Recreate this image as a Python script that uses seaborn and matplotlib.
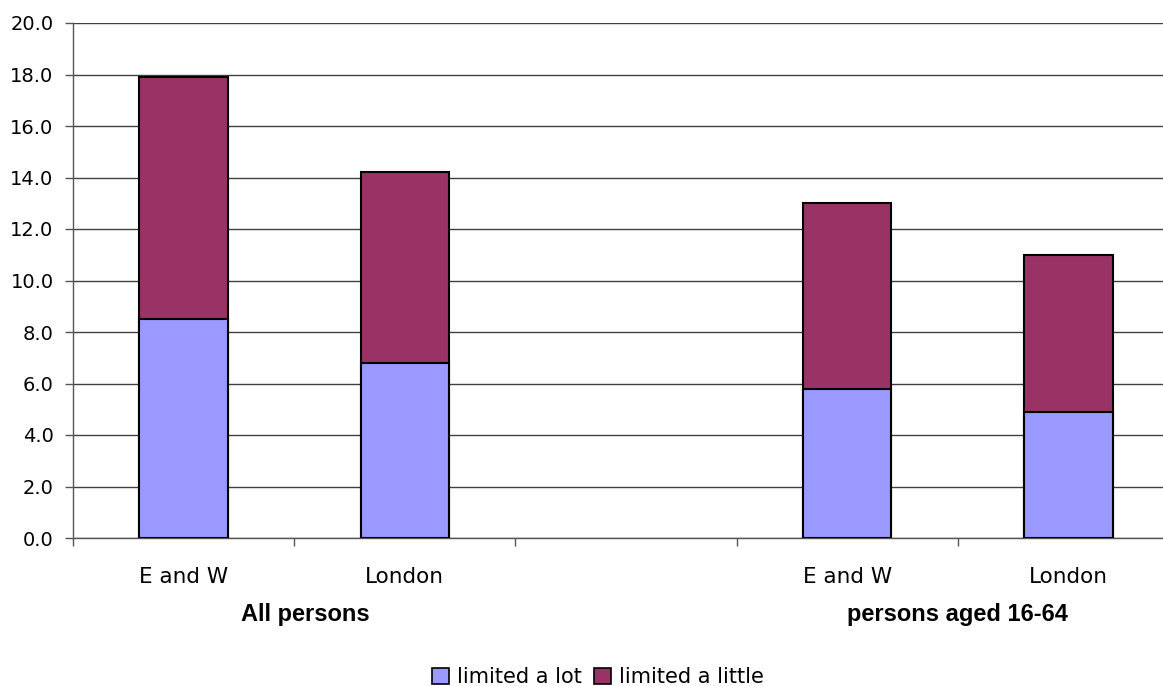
import matplotlib
matplotlib.use("Agg")
import matplotlib.pyplot as plt
import matplotlib.transforms as mtransforms
from matplotlib.patches import Patch
from matplotlib.ticker import FixedLocator
import pandas as pd
import seaborn as sns

# ---- data ----
slots = ["ew_all", "ldn_all", "gap", "ew_1664", "ldn_1664"]
slot_labels = ["E and W", "London", "", "E and W", "London"]
bar_slots = ["ew_all", "ldn_all", "ew_1664", "ldn_1664"]
limited_lot = [8.5, 6.8, 5.8, 4.9]
limited_little = [9.4, 7.4, 7.2, 6.1]
series_names = ["limited a lot", "limited a little"]
groups = ["All persons", "persons aged 16-64"]
group_centers = [0.55, 3.5]
yticks = [0, 2, 4, 6, 8, 10, 12, 14, 16, 18, 20]

COL_LOT = "#9999FF"
COL_LITTLE = "#993366"

sns.set_style("white")
plt.rcParams["font.family"] = ["DejaVu Sans"]
plt.rcParams["text.color"] = "black"
plt.rcParams["xtick.color"] = "black"
plt.rcParams["ytick.color"] = "black"

df = pd.DataFrame({
    "slot": bar_slots,
    "lot": limited_lot,
    "little": limited_little,
})
df["total"] = df["lot"] + df["little"]

W, H = 1163, 686
fig = plt.figure(figsize=(W / 100, H / 100), dpi=100)
ax = fig.add_axes([73 / W, 1 - 538 / H, 1106 / W, 515 / H])

sns.barplot(data=df, x="slot", y="total", order=slots, color=COL_LITTLE,
            saturation=1, edgecolor="black", linewidth=1.5, width=0.4,
            ax=ax, zorder=3)
sns.barplot(data=df, x="slot", y="lot", order=slots, color=COL_LOT,
            saturation=1, edgecolor="black", linewidth=1.5, width=0.4,
            ax=ax, zorder=4)

ax.set_xlim(-0.5, 4.5)
ax.set_ylim(0, 20)
ax.set_yticks(yticks)
ax.set_yticklabels([f"{v:.1f}" for v in yticks], fontsize=14)
ax.yaxis.grid(True, color="#404040", linewidth=1.0, zorder=0)
ax.set_axisbelow(True)

ax.set_xticks(range(len(slots)))
ax.set_xticklabels(slot_labels, fontsize=15.5)
ax.xaxis.set_minor_locator(FixedLocator([i - 0.5 for i in range(len(slots) + 1)]))
ax.tick_params(axis="x", which="major", length=0, pad=21, bottom=True, labelcolor="black")
ax.tick_params(axis="x", which="minor", length=6, width=1, color="#555555",
               direction="out", bottom=True)
ax.tick_params(axis="y", which="major", length=6, width=1, color="#555555",
               direction="out", pad=8, left=True, labelcolor="black")
ax.set_xlabel("")
ax.set_ylabel("")

for s in ["top", "right"]:
    ax.spines[s].set_visible(False)
for s in ["left", "bottom"]:
    ax.spines[s].set_color("#555555")
    ax.spines[s].set_linewidth(1.0)

trans = mtransforms.blended_transform_factory(ax.transData, fig.transFigure)
for g, c in zip(groups, group_centers):
    ax.text(c, 1 - 615 / H, g, transform=trans, ha="center", va="center",
            fontsize=17, fontweight="bold", family=["Liberation Sans"], color="black")

handles = [Patch(facecolor=COL_LOT, edgecolor="black", linewidth=1.2),
           Patch(facecolor=COL_LITTLE, edgecolor="black", linewidth=1.2)]
fig.legend(handles, series_names, loc="center", ncol=2, frameon=False,
           bbox_to_anchor=(598 / W, 1 - 677 / H), fontsize=15,
           handlelength=0.8, handleheight=0.8, handletextpad=0.4,
           columnspacing=0.6, labelcolor="black")

fig.savefig("out.png", dpi=100)
